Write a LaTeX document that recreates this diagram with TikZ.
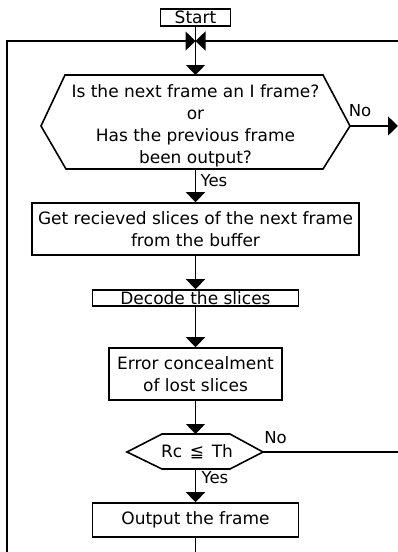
\documentclass[tikz,border=0pt]{standalone}
\usepackage{fontspec}
\setmainfont{DejaVu Sans}
\usetikzlibrary{arrows.meta}

\begin{document}
\begin{tikzpicture}
    [
      x=1pt, y=-1pt,
      every node/.style={font=\fontsize{17}{22}\selectfont, inner sep=0pt},
      box/.style={draw, line width=1.6pt, align=center},
      tag/.style={font=\fontsize{16.5}{18}\selectfont},
      wire/.style={line width=1.5pt},
      flow/.style={wire, -{Triangle[width=19pt,length=10pt]}}
    ]
    \useasboundingbox (0,0) rectangle (398,552);
    % process boxes
    \node [box, minimum width=70pt, minimum height=17pt] (start) at (195.5,17.5) {Start};
    \node [box, minimum width=327pt, minimum height=52pt] (fetch) at (195.5,229)
        {Get recieved slices of the next frame\\from the buffer};
    \node [box, minimum width=206pt, minimum height=16pt] (decode) at (195.5,298) {Decode the slices};
    \node [box, minimum width=173pt, minimum height=52pt] (conceal) at (195.5,374)
        {Error concealment\\of lost slices};
    \node [box, minimum width=206pt, minimum height=34pt] (output) at (195.5,520) {Output the frame};
    % decisions
    \draw [line width=1.6pt] (41,126) coordinate (q1w) -- (65,75) -- (323,75)
        -- (350,126) coordinate (q1e) -- (323,169) -- (66,169) -- cycle;
    \node [align=center] (q1) at (195.5,126)
        {Is the next frame an I frame?\\or\\Has the previous frame\\been output?};
    \coordinate (q1n) at (195.5,75);
    \coordinate (q1s) at (195.5,169);
    \draw [line width=1.6pt] (127,452) coordinate (q2w) -- (162,434) -- (230,434)
        -- (263,452) coordinate (q2e) -- (230,469) -- (162,469) -- cycle;
    \node (q2) at (197,452) {Rc\hspace{0.45em}≦\hspace{0.45em}Th};
    \coordinate (q2n) at (195.5,434);
    \coordinate (q2s) at (195.5,469);
    % loop ends
    \coordinate (join) at (195.5,41);
    \coordinate (loopl) at (7,552);
    \coordinate (loopr) at (398,41);
    \coordinate (exit1) at (398,126);
    \coordinate (exit2) at (398,452);
    \coordinate (tail) at (195.5,552);
    % labels
    \node [tag] (no1) at (360,111) {No};
    \node [tag] (yes1) at (214,180.5) {Yes};
    \node [tag] (no2) at (275.5,437.5) {No};
    \node [tag] (yes2) at (215,478) {Yes};
    % connectors
    \draw [flow] (loopl) |- (join);
    \draw [flow] (loopr) -- (join);
    \draw [flow] (start.south) -- (q1n);
    \draw [flow] (q1e) -- (exit1);
    \draw [flow] (q1s) -- (fetch.north);
    \draw [flow] (fetch.south) -- (decode.north);
    \draw [flow] (decode.south) -- (conceal.north);
    \draw [flow] (conceal.south) -- (q2n);
    \draw [wire] (q2e) -- (exit2);
    \draw [flow] (q2s) -- (output.north);
    \draw [wire] (output.south) -- (tail);
\end{tikzpicture}
\end{document}
